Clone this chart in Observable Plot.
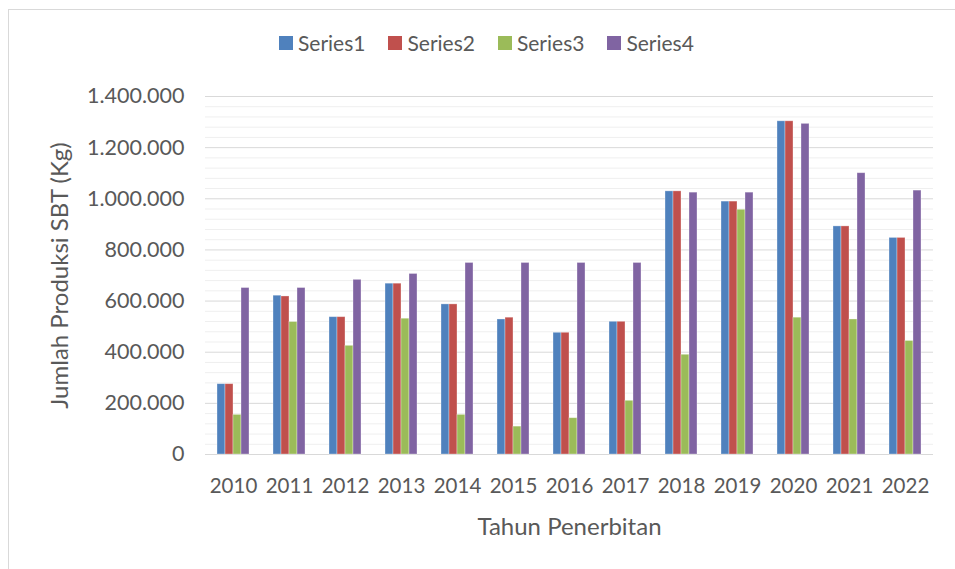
<!DOCTYPE html>
<html>
<head>
<meta charset="utf-8">
<script src="https://cdn.jsdelivr.net/npm/d3@7"></script>
<script src="https://cdn.jsdelivr.net/npm/@observablehq/plot@0.6"></script>
<style>
  body { margin: 0; background: #fff; }
  #chart { position: relative; width: 955px; height: 569px; overflow: hidden; font-family: Lato, sans-serif; color: #595959; }
  #frame { position: absolute; left: 8px; top: 9px; width: 1000px; height: 1000px; border-left: 1px solid #d9d9d9; border-top: 1px solid #d9d9d9; box-sizing: border-box; }
  #legend { position: relative; height: 70px; display: flex; align-items: flex-start; padding-left: 279px; padding-top: 30px; box-sizing: border-box; font-size: 21px; }
  .item { display: flex; align-items: center; margin-right: 23px; }
  .sw { width: 14px; height: 14px; margin-right: 5px; }
  #plot { position: relative; }
</style>
</head>
<body>
<div id="chart">
  <div id="frame"></div>
  <div id="legend"></div>
  <div id="plot"></div>
</div>
<script>
const years = ["2010","2011","2012","2013","2014","2015","2016","2017","2018","2019","2020","2021","2022"];
const seriesNames = ["Series1","Series2","Series3","Series4"];
const series1 = [275000, 621000, 537000, 668000, 587000, 528000, 476000, 519000, 1029000, 989000, 1303000, 892000, 847000];
const series2 = [275000, 618000, 537000, 668000, 587000, 535000, 476000, 519000, 1029000, 989000, 1303000, 892000, 847000];
const series3 = [155000, 518000, 425000, 531000, 155000, 109000, 142000, 210000, 390000, 957000, 535000, 528000, 444000];
const series4 = [651000, 651000, 683000, 706000, 749000, 749000, 749000, 749000, 1024000, 1024000, 1293000, 1100000, 1032000];
const colors = ["#4F81BD", "#C0504D", "#9BBB59", "#8064A2"];
const yTicks = [0, 200000, 400000, 600000, 800000, 1000000, 1200000, 1400000];
const minorStep = 40000;
const yLabel = "Jumlah Produksi SBT (Kg)";
const xLabel = "Tahun Penerbitan";

const allSeries = [series1, series2, series3, series4];
const data = [];
years.forEach((yr, i) => {
  seriesNames.forEach((s, j) => data.push({year: yr, series: s, value: allSeries[j][i]}));
});
const minorTicks = d3.range(0, 1400001, minorStep).filter(v => !yTicks.includes(v));
const fmt = d3.formatLocale({decimal: ",", thousands: ".", grouping: [3], currency: ["", ""]}).format(",d");

// legend
const legend = d3.select("#legend");
seriesNames.forEach((s, j) => {
  const it = legend.append("div").attr("class", "item");
  it.append("div").attr("class", "sw").style("background", colors[j]);
  it.append("span").text(s);
});

const chart = Plot.plot({
  width: 955,
  height: 499,
  marginTop: 26,
  marginBottom: 115,
  marginLeft: 201,
  marginRight: 19,
  style: {fontFamily: "Lato, sans-serif", color: "#595959", background: "transparent", overflow: "visible"},
  fx: {domain: years, padding: 0},
  x: {domain: seriesNames, paddingInner: 0, paddingOuter: 1.45, axis: null},
  y: {domain: [0, 1400000]},
  color: {domain: seriesNames, range: colors},
  marks: [
    Plot.gridY(minorTicks, {stroke: "#efefef", strokeOpacity: 1}),
    Plot.gridY(yTicks, {stroke: "#d9d9d9", strokeOpacity: 1}),
    Plot.barY(data, {fx: "year", x: "series", y: "value", fill: "series", stroke: "#ffffff", strokeOpacity: 0.4, strokeWidth: 0.8}),
    Plot.axisY(yTicks, {tickSize: 0, tickPadding: 21, fontSize: 21.5, tickFormat: fmt, label: null}),
    Plot.axisY({ticks: [], tickSize: 0, label: yLabel, fontSize: 24, labelAnchor: "center", labelArrow: false, labelOffset: 155}),
    Plot.axisFx({anchor: "bottom", tickSize: 0, tickPadding: 24, fontSize: 20.5, label: null}),
    Plot.axisFx({anchor: "bottom", ticks: [], tickSize: 0, fontSize: 24, label: xLabel, labelAnchor: "center", labelArrow: false, labelOffset: 80})
  ]
});
document.getElementById("plot").appendChild(chart);
</script>
</body>
</html>
